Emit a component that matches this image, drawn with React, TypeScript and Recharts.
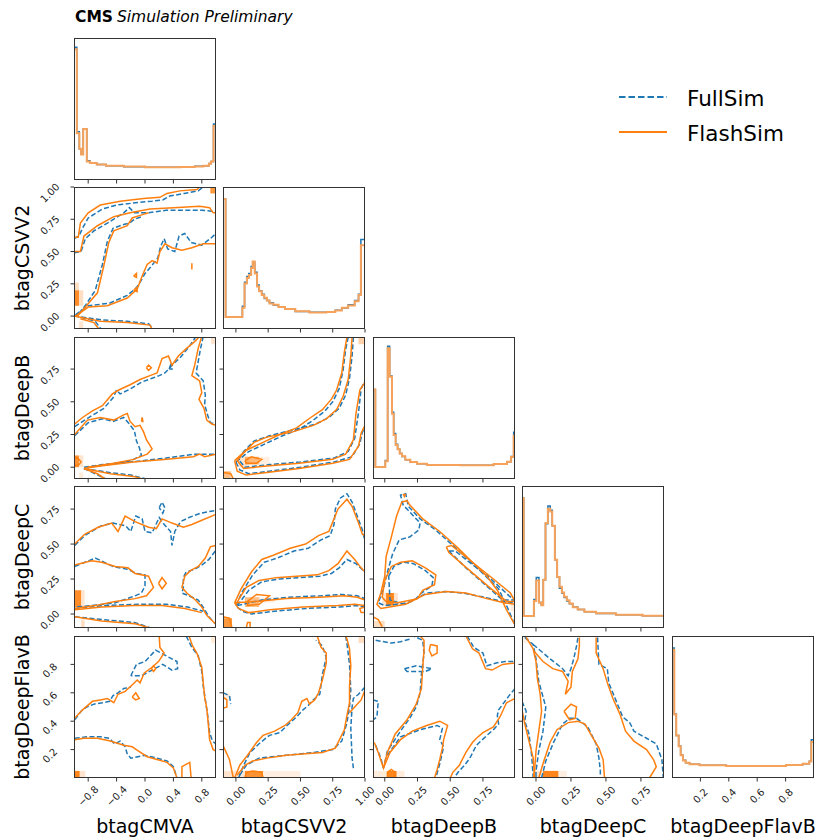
import React from 'react';
import { ScatterChart, Scatter, XAxis, YAxis, ReferenceArea } from 'recharts';

type Pt = [number, number];
type Cell = [number, number, number, number, number];

const ORANGE = '#ff7f0e';
const HIST_ORANGE = '#f6a25a';
const BLUE = '#1f77b4';
const FONT = '"DejaVu Sans", sans-serif';

// variables of the corner plot
const varNames = ['btagCMVA', 'btagCSVV2', 'btagDeepB', 'btagDeepC', 'btagDeepFlavB'];
const varDomains: [number, number][] = [[-1, 1], [-0.1, 1.0], [-0.09, 0.995], [-0.1, 0.915], [0, 1.0]];
const varTicks: number[][] = [
  [-0.8, -0.4, 0, 0.4, 0.8],
  [0, 0.25, 0.5, 0.75, 1.0],
  [0, 0.25, 0.5, 0.75],
  [0, 0.25, 0.5, 0.75],
  [0.2, 0.4, 0.6, 0.8],
];
const tickDigits = [1, 2, 2, 2, 1];

const colLeft = [74, 223, 373, 522, 672];
const rowTop = [38, 187, 337, 486, 636];
const SIZE = 142;
const AX = 40;

// diagonal histograms: [bin left edge, normalised height]
const histFlash0: Pt[] = [[-1.0, 0.92], [-0.96, 0.33], [-0.925, 0.22], [-0.9, 0.18], [-0.87, 0.36], [-0.82, 0.13], [-0.775, 0.12], [-0.68, 0.11], [-0.55, 0.1], [-0.3, 0.095], [0.0, 0.09], [0.5, 0.092], [0.7, 0.095], [0.82, 0.1], [0.9, 0.115], [0.93, 0.13], [0.965, 0.38], [1.0, 0.38]];
const histFull0: Pt[] = [[-1.0, 0.935], [-0.96, 0.34], [-0.925, 0.22], [-0.9, 0.185], [-0.87, 0.36], [-0.82, 0.135], [-0.775, 0.12], [-0.68, 0.11], [-0.55, 0.1], [-0.3, 0.094], [0.0, 0.09], [0.5, 0.093], [0.7, 0.096], [0.82, 0.1], [0.9, 0.116], [0.93, 0.13], [0.965, 0.395], [1.0, 0.395]];
const histFlash1: Pt[] = [[-0.1, 0.915], [-0.08, 0.085], [0.05, 0.15], [0.067, 0.32], [0.085, 0.36], [0.1, 0.38], [0.118, 0.43], [0.13, 0.475], [0.146, 0.39], [0.164, 0.3], [0.18, 0.265], [0.2, 0.24], [0.22, 0.22], [0.24, 0.2], [0.26, 0.18], [0.29, 0.17], [0.33, 0.155], [0.38, 0.14], [0.46, 0.125], [0.57, 0.117], [0.7, 0.12], [0.77, 0.13], [0.82, 0.15], [0.87, 0.165], [0.92, 0.195], [0.95, 0.24], [0.968, 0.59], [1.0, 0.59]];
const histFull1: Pt[] = [[-0.1, 0.915], [-0.08, 0.085], [0.05, 0.16], [0.067, 0.33], [0.085, 0.37], [0.1, 0.39], [0.118, 0.44], [0.13, 0.47], [0.146, 0.4], [0.164, 0.31], [0.18, 0.27], [0.2, 0.245], [0.22, 0.215], [0.24, 0.2], [0.26, 0.185], [0.29, 0.168], [0.33, 0.155], [0.38, 0.142], [0.46, 0.124], [0.57, 0.118], [0.7, 0.122], [0.77, 0.132], [0.82, 0.148], [0.87, 0.17], [0.92, 0.2], [0.95, 0.245], [0.968, 0.63], [1.0, 0.63]];
const histFlash2: Pt[] = [[-0.09, 0.63], [-0.072, 0.085], [0.004, 0.125], [0.022, 0.92], [0.037, 0.72], [0.055, 0.46], [0.068, 0.31], [0.083, 0.24], [0.098, 0.21], [0.114, 0.18], [0.132, 0.16], [0.157, 0.136], [0.195, 0.12], [0.246, 0.108], [0.323, 0.099], [0.577, 0.096], [0.832, 0.106], [0.934, 0.122], [0.964, 0.155], [0.985, 0.305], [0.995, 0.305]];
const histFull2: Pt[] = [[-0.09, 0.63], [-0.072, 0.086], [0.004, 0.13], [0.022, 0.935], [0.037, 0.725], [0.055, 0.47], [0.068, 0.32], [0.083, 0.245], [0.098, 0.21], [0.114, 0.18], [0.132, 0.158], [0.157, 0.136], [0.195, 0.12], [0.246, 0.107], [0.323, 0.1], [0.577, 0.097], [0.832, 0.105], [0.934, 0.122], [0.964, 0.158], [0.985, 0.33], [0.995, 0.33]];
const histFlash3: Pt[] = [[-0.1, 0.915], [-0.088, 0.084], [-0.015, 0.19], [0.002, 0.335], [0.021, 0.18], [0.038, 0.16], [0.052, 0.34], [0.068, 0.74], [0.085, 0.84], [0.102, 0.82], [0.116, 0.72], [0.135, 0.48], [0.151, 0.36], [0.168, 0.29], [0.185, 0.25], [0.201, 0.22], [0.22, 0.196], [0.239, 0.173], [0.263, 0.147], [0.298, 0.131], [0.346, 0.115], [0.429, 0.103], [0.571, 0.093], [0.761, 0.086], [0.915, 0.086]];
const histFull3: Pt[] = [[-0.1, 0.915], [-0.088, 0.084], [-0.015, 0.2], [0.002, 0.355], [0.021, 0.18], [0.038, 0.165], [0.052, 0.34], [0.068, 0.735], [0.085, 0.86], [0.102, 0.83], [0.116, 0.72], [0.135, 0.48], [0.151, 0.36], [0.168, 0.28], [0.185, 0.245], [0.201, 0.215], [0.22, 0.19], [0.239, 0.17], [0.263, 0.148], [0.298, 0.13], [0.346, 0.115], [0.429, 0.102], [0.571, 0.093], [0.761, 0.086], [0.915, 0.086]];
const histFlash4: Pt[] = [[0.0, 0.904], [0.016, 0.448], [0.03, 0.3], [0.047, 0.223], [0.061, 0.16], [0.077, 0.124], [0.096, 0.108], [0.124, 0.096], [0.194, 0.089], [0.382, 0.085], [0.803, 0.092], [0.92, 0.1], [0.967, 0.117], [0.981, 0.254], [0.995, 0.254]];
const histFull4: Pt[] = [[0.0, 0.915], [0.016, 0.45], [0.03, 0.3], [0.047, 0.225], [0.061, 0.162], [0.077, 0.125], [0.096, 0.108], [0.124, 0.096], [0.194, 0.089], [0.382, 0.085], [0.803, 0.092], [0.92, 0.1], [0.967, 0.118], [0.981, 0.27], [0.995, 0.27]];

// contour lines, one list of polylines per panel (row, col)
const flash10: Pt[][] = [
  [[-1, 0.61], [-0.94, 0.61], [-0.91, 0.72], [-0.8, 0.8], [-0.63, 0.86], [-0.35, 0.89], [-0.02, 0.91], [0.21, 0.92], [0.31, 0.95], [0.49, 0.97], [0.73, 0.98], [0.77, 1.0]],
  [[-1, 0.5], [-0.91, 0.5], [-0.86, 0.62], [-0.67, 0.7], [-0.44, 0.77], [-0.21, 0.8], [0.07, 0.83], [0.4, 0.84], [0.77, 0.85], [0.91, 0.84], [0.96, 0.8], [1.0, 0.8]],
  [[-0.95, 0.0], [-0.84, 0.07], [-0.67, 0.18], [-0.58, 0.39], [-0.51, 0.57], [-0.44, 0.66], [-0.25, 0.7], [-0.18, 0.76], [-0.07, 0.78], [0.05, 0.8]],
  [[-0.98, 0.0], [-0.8, 0.07], [-0.53, 0.08], [-0.25, 0.14], [-0.11, 0.21], [-0.04, 0.31], [0.03, 0.4], [0.1, 0.43], [0.17, 0.41], [0.21, 0.5], [0.28, 0.56], [0.38, 0.53], [0.52, 0.51], [0.66, 0.53], [0.82, 0.56], [1.0, 0.56]],
  [[-1, 0.0], [-0.63, -0.04], [-0.25, -0.05], [0.07, -0.07], [0.1, -0.1]],
  [[-0.91, -0.02], [-0.72, -0.05], [-0.65, -0.1]],
  [[-0.16, 0.31], [-0.12, 0.33], [-0.12, 0.3], [-0.16, 0.31]],
  [[-0.16, 0.2], [-0.12, 0.22], [-0.11, 0.19], [-0.16, 0.2]],
  [[0.66, 0.36], [0.66, 0.41]],
];
const full10: Pt[][] = [
  [[-1, 0.6], [-0.93, 0.62], [-0.88, 0.68], [-0.8, 0.76], [-0.6, 0.83], [-0.4, 0.86], [-0.1, 0.88], [0.1, 0.89], [0.25, 0.9], [0.35, 0.93], [0.55, 0.95], [0.75, 0.97], [0.82, 1.0]],
  [[-1, 0.49], [-0.9, 0.5], [-0.84, 0.6], [-0.72, 0.66], [-0.5, 0.73], [-0.3, 0.8], [-0.22, 0.84], [-0.15, 0.8], [0.05, 0.8], [0.3, 0.82], [0.55, 0.82], [0.8, 0.82], [1.0, 0.81]],
  [[-0.93, 0.02], [-0.83, 0.09], [-0.7, 0.2], [-0.6, 0.4], [-0.53, 0.58], [-0.45, 0.68], [-0.3, 0.71], [-0.22, 0.72], [-0.15, 0.75], [-0.05, 0.77]],
  [[-0.98, 0.01], [-0.8, 0.08], [-0.5, 0.1], [-0.25, 0.16], [-0.12, 0.22], [-0.05, 0.28], [0.0, 0.33], [0.08, 0.38], [0.18, 0.45], [0.22, 0.54], [0.27, 0.6], [0.32, 0.52], [0.42, 0.5], [0.48, 0.62], [0.56, 0.64], [0.65, 0.57], [0.8, 0.55], [0.92, 0.6], [1.0, 0.64]],
  [[-1, 0.0], [-0.6, -0.03], [-0.25, -0.04], [0.05, -0.06], [0.12, -0.1]],
  [[-0.9, -0.01], [-0.7, -0.04], [-0.62, -0.1]],
];
const cells10: Cell[] = [[-1, -0.93, 0.08, 0.2, 0.9], [-1, -0.93, 0.2, 0.26, 0.25], [-0.93, -0.87, 0.08, 0.2, 0.25], [-0.93, -0.87, -0.1, -0.04, 0.2], [0.92, 1.0, 0.95, 1.0, 0.8]];

const flash20: Pt[][] = [
  [[-0.99, 0.33], [-0.88, 0.38], [-0.74, 0.43], [-0.6, 0.47], [-0.46, 0.56], [-0.37, 0.59], [-0.21, 0.63], [-0.07, 0.67], [0.07, 0.7], [0.17, 0.72], [0.24, 0.83], [0.33, 0.85], [0.38, 0.78], [0.47, 0.85], [0.59, 0.91], [0.7, 0.96], [0.77, 1.0]],
  [[0.8, 1.0], [0.75, 0.91], [0.7, 0.78], [0.66, 0.7], [0.77, 0.66], [0.8, 0.57], [0.76, 0.52], [0.83, 0.45], [0.87, 0.36], [0.94, 0.33], [1.0, 0.32]],
  [[-0.99, 0.25], [-0.81, 0.36], [-0.63, 0.38], [-0.44, 0.36], [-0.3, 0.4], [-0.25, 0.41], [-0.21, 0.35], [-0.14, 0.31], [-0.07, 0.32], [-0.02, 0.27], [0.02, 0.21], [0.1, 0.14], [0.03, 0.1], [-0.16, 0.06], [-0.44, 0.03], [-0.81, 0.0]],
  [[-0.86, -0.01], [-0.63, 0.01], [-0.16, 0.04], [0.31, 0.06], [0.68, 0.08], [0.77, 0.1], [0.84, 0.08], [1.0, 0.1]],
  [[-0.86, -0.01], [-0.49, -0.05], [-0.16, -0.07], [0.03, -0.1]],
  [[-0.86, -0.01], [-0.67, -0.05], [-0.53, -0.1]],
  [[0.02, 0.76], [0.05, 0.78], [0.09, 0.76], [0.05, 0.74], [0.02, 0.76]],
  [[-0.05, 0.35], [-0.04, 0.38], [-0.03, 0.35], [-0.05, 0.35]],
  [[-1, 0.08], [-0.93, 0.06], [-0.9, 0.04], [-0.93, 0.02], [-1, 0.01]],
];
const full20: Pt[][] = [
  [[-0.99, 0.31], [-0.85, 0.36], [-0.7, 0.41], [-0.58, 0.45], [-0.45, 0.53], [-0.4, 0.59], [-0.35, 0.56], [-0.2, 0.6], [-0.05, 0.65], [0.1, 0.68], [0.2, 0.7], [0.28, 0.72], [0.35, 0.76], [0.42, 0.8], [0.5, 0.84], [0.62, 0.92], [0.72, 1.0]],
  [[0.82, 1.0], [0.78, 0.9], [0.74, 0.78], [0.72, 0.72], [0.82, 0.66], [0.85, 0.55], [0.84, 0.48], [0.88, 0.4], [0.92, 0.34], [1.0, 0.33]],
  [[-0.99, 0.24], [-0.8, 0.34], [-0.6, 0.37], [-0.45, 0.35], [-0.3, 0.38], [-0.22, 0.33], [-0.15, 0.28], [-0.12, 0.2], [-0.08, 0.15], [-0.05, 0.09], [-0.2, 0.05], [-0.5, 0.02], [-0.8, 0.0]],
  [[-0.86, 0.0], [-0.6, 0.02], [-0.2, 0.04], [0.3, 0.07], [0.7, 0.1], [0.8, 0.1], [1.0, 0.1]],
  [[-0.86, -0.01], [-0.5, -0.04], [-0.2, -0.06], [0.02, -0.09]],
  [[-0.86, -0.01], [-0.7, -0.05], [-0.55, -0.09]],
  [[0.34, 0.75], [0.36, 0.78], [0.38, 0.75], [0.34, 0.75]],
];
const cells20: Cell[] = [[-1, -0.93, 0.0, 0.09, 0.85], [-0.93, -0.87, 0.0, 0.09, 0.2], [-0.93, -0.87, -0.09, -0.04, 0.15], [0.93, 1.0, 0.94, 0.995, 0.2]];

const flash30: Pt[][] = [
  [[-0.99, 0.5], [-0.85, 0.57], [-0.66, 0.62], [-0.47, 0.65], [-0.38, 0.59], [-0.28, 0.7], [-0.14, 0.66], [0.05, 0.62], [0.16, 0.61], [0.24, 0.68], [0.38, 0.65], [0.54, 0.62], [0.66, 0.64], [0.8, 0.67], [0.99, 0.71]],
  [[-0.99, 0.35], [-0.75, 0.38], [-0.61, 0.37], [-0.42, 0.34], [-0.24, 0.33], [-0.14, 0.29], [0.05, 0.27], [0.12, 0.19], [0.02, 0.13], [-0.14, 0.11], [-0.42, 0.09], [-0.71, 0.06], [-0.99, 0.04]],
  [[0.99, 0.49], [0.92, 0.48], [0.85, 0.4], [0.75, 0.34], [0.64, 0.31], [0.56, 0.27], [0.52, 0.19], [0.59, 0.15], [0.71, 0.1], [0.8, 0.05], [0.87, -0.01], [0.99, -0.07]],
  [[-0.99, 0.03], [-0.61, 0.05], [-0.14, 0.06], [0.24, 0.06], [0.56, 0.04], [0.8, 0.01]],
  [[-0.99, -0.02], [-0.61, -0.05], [-0.14, -0.07], [0.07, -0.1]],
  [[0.19, 0.22], [0.24, 0.26], [0.3, 0.22], [0.24, 0.18], [0.19, 0.22]],
];
const full30: Pt[][] = [
  [[-0.99, 0.49], [-0.85, 0.56], [-0.62, 0.63], [-0.45, 0.65], [-0.27, 0.63], [-0.2, 0.59], [-0.13, 0.7], [-0.04, 0.68], [0.0, 0.59], [0.1, 0.58], [0.2, 0.69], [0.27, 0.64], [0.36, 0.59], [0.38, 0.49], [0.42, 0.59], [0.5, 0.66], [0.62, 0.69], [0.78, 0.72], [0.99, 0.74]],
  [[0.2, 0.76], [0.24, 0.8], [0.28, 0.76], [0.25, 0.72], [0.2, 0.76]],
  [[-0.99, 0.34], [-0.7, 0.4], [-0.45, 0.34], [-0.25, 0.32], [-0.12, 0.29], [0.0, 0.28], [0.0, 0.2], [-0.05, 0.15], [-0.14, 0.13], [-0.42, 0.08], [-0.75, 0.06], [-0.99, 0.05]],
  [[0.99, 0.45], [0.9, 0.39], [0.8, 0.35], [0.7, 0.32], [0.58, 0.3], [0.54, 0.26], [0.54, 0.19], [0.52, 0.15], [0.62, 0.13], [0.75, 0.1], [0.83, 0.04], [0.9, -0.02], [0.99, -0.07]],
  [[-0.99, 0.04], [-0.6, 0.06], [-0.1, 0.07], [0.3, 0.07], [0.6, 0.05], [0.82, 0.02]],
  [[-0.99, -0.02], [-0.6, -0.04], [-0.15, -0.06], [0.08, -0.1]],
];
const cells30: Cell[] = [[-1, -0.9, 0.05, 0.17, 0.9], [-0.9, -0.85, 0.05, 0.17, 0.2], [-0.9, -0.85, -0.1, -0.04, 0.25]];

const flash21: Pt[][] = [
  [[-0.01, 0.05], [0.08, 0.13], [0.21, 0.19], [0.34, 0.25], [0.47, 0.3], [0.58, 0.38], [0.67, 0.44], [0.74, 0.52], [0.78, 0.59], [0.82, 0.72], [0.84, 0.88], [0.86, 0.995]],
  [[-0.01, 0.05], [0.01, -0.03], [0.08, -0.06], [0.24, -0.04], [0.49, -0.01], [0.75, 0.03], [0.88, 0.06], [0.95, 0.16], [0.97, 0.26], [1.0, 0.32]],
  [[0.9, 0.995], [0.89, 0.85], [0.87, 0.67], [0.83, 0.54], [0.78, 0.44], [0.7, 0.37], [0.6, 0.32], [0.44, 0.27], [0.24, 0.23], [0.14, 0.19], [0.05, 0.1], [0.01, 0.05], [0.06, -0.01], [0.24, 0.01], [0.49, 0.03], [0.75, 0.06], [0.85, 0.1], [0.91, 0.21], [0.93, 0.41], [0.96, 0.59], [1.0, 0.65]],
  [[0.07, 0.05], [0.12, 0.08], [0.2, 0.06], [0.16, 0.03], [0.08, 0.03], [0.07, 0.05]],
  [[-0.1, -0.04], [-0.04, -0.05], [-0.02, -0.09]],
];
const full21: Pt[][] = [
  [[0.0, 0.04], [0.1, 0.12], [0.23, 0.18], [0.36, 0.24], [0.49, 0.29], [0.6, 0.36], [0.69, 0.43], [0.75, 0.5], [0.8, 0.6], [0.83, 0.74], [0.85, 0.9], [0.87, 0.995]],
  [[0.0, 0.04], [0.03, -0.02], [0.1, -0.05], [0.26, -0.03], [0.5, 0.0], [0.76, 0.04], [0.9, 0.08], [0.96, 0.18], [0.98, 0.27], [1.0, 0.3]],
  [[0.91, 0.995], [0.9, 0.85], [0.88, 0.68], [0.85, 0.55], [0.8, 0.45], [0.72, 0.38], [0.62, 0.33], [0.46, 0.29], [0.26, 0.24], [0.14, 0.2], [0.06, 0.12], [0.02, 0.06], [0.07, 0.0], [0.26, 0.02], [0.5, 0.04], [0.76, 0.07], [0.87, 0.12], [0.92, 0.22], [0.95, 0.42], [0.97, 0.6], [1.0, 0.66]],
];
const cells21: Cell[] = [[0.02, 0.1, 0.0, 0.08, 0.2], [0.07, 0.18, 0.02, 0.08, 0.55], [0.18, 0.26, 0.02, 0.08, 0.12], [0.95, 1.0, 0.94, 0.995, 0.35], [-0.1, -0.04, -0.09, -0.03, 0.5]];

const flash31: Pt[][] = [
  [[-0.01, 0.08], [0.04, 0.18], [0.12, 0.3], [0.2, 0.39], [0.29, 0.42], [0.42, 0.47], [0.54, 0.5], [0.64, 0.56], [0.72, 0.59], [0.76, 0.68], [0.79, 0.75], [0.83, 0.79], [0.86, 0.82], [0.9, 0.77], [0.95, 0.65], [0.98, 0.57], [1.0, 0.56]],
  [[0.0, 0.07], [0.08, 0.19], [0.18, 0.24], [0.31, 0.26], [0.47, 0.27], [0.63, 0.28], [0.72, 0.31], [0.79, 0.36], [0.86, 0.45], [0.92, 0.39], [0.97, 0.33], [1.0, 0.3]],
  [[-0.01, 0.08], [0.16, 0.09], [0.39, 0.11], [0.65, 0.12], [0.84, 0.13], [0.94, 0.12], [1.0, 0.1]],
  [[-0.01, 0.08], [0.02, 0.04], [0.1, 0.01], [0.26, 0.03], [0.52, 0.05], [0.79, 0.06], [0.92, 0.07], [1.0, 0.06]],
  [[0.09, 0.09], [0.16, 0.14], [0.26, 0.13], [0.18, 0.07], [0.09, 0.06], [0.09, 0.09]],
  [[-0.1, -0.02], [-0.05, -0.03], [-0.03, -0.1]],
  [[0.08, -0.1], [0.09, -0.06], [0.11, -0.06], [0.11, -0.1]],
  [[1.0, 0.05], [0.96, 0.04], [0.97, 0.01], [1.0, 0.01]],
];
const full31: Pt[][] = [
  [[0.0, 0.06], [0.05, 0.16], [0.13, 0.28], [0.22, 0.37], [0.32, 0.4], [0.45, 0.45], [0.56, 0.47], [0.66, 0.53], [0.73, 0.56], [0.76, 0.64], [0.77, 0.75], [0.81, 0.83], [0.86, 0.86], [0.9, 0.8], [0.94, 0.7], [0.98, 0.6], [1.0, 0.52]],
  [[0.01, 0.06], [0.1, 0.17], [0.2, 0.23], [0.33, 0.25], [0.5, 0.26], [0.65, 0.27], [0.74, 0.29], [0.8, 0.33], [0.86, 0.39], [0.93, 0.36], [1.0, 0.3]],
  [[0.01, 0.06], [0.2, 0.1], [0.4, 0.12], [0.66, 0.13], [0.82, 0.14], [0.94, 0.13], [1.0, 0.11]],
  [[0.01, 0.05], [0.05, 0.02], [0.12, 0.0], [0.3, 0.02], [0.55, 0.04], [0.8, 0.05], [0.93, 0.06], [1.0, 0.05]],
];
const cells31: Cell[] = [[0.07, 0.18, 0.05, 0.12, 0.5], [0.18, 0.3, 0.08, 0.12, 0.1], [-0.1, -0.03, -0.1, -0.03, 0.8]];

const flash32: Pt[][] = [
  [[0.99, -0.07], [0.93, 0.03], [0.86, 0.17], [0.78, 0.27], [0.67, 0.37], [0.55, 0.48], [0.42, 0.59], [0.29, 0.68], [0.19, 0.78], [0.17, 0.81], [0.13, 0.8], [0.09, 0.7], [0.05, 0.55], [0.01, 0.41], [0.0, 0.27], [-0.03, 0.15], [-0.06, 0.07], [-0.03, 0.04], [0.16, 0.07], [0.31, 0.14], [0.47, 0.16], [0.62, 0.15], [0.78, 0.11], [0.91, 0.08], [0.995, 0.07]],
  [[0.0, 0.24], [0.05, 0.34], [0.12, 0.37], [0.21, 0.38], [0.31, 0.33], [0.39, 0.28], [0.38, 0.21], [0.29, 0.17], [0.25, 0.11], [0.1, 0.08], [0.01, 0.09], [-0.02, 0.12], [0.0, 0.24]],
  [[0.47, 0.48], [0.51, 0.49], [0.67, 0.37], [0.83, 0.25], [0.96, 0.15], [0.995, 0.09], [0.93, 0.09], [0.8, 0.19], [0.65, 0.31], [0.49, 0.44], [0.47, 0.48]],
  [[-0.09, -0.02], [-0.05, -0.04], [-0.02, -0.09]],
  [[0.14, 0.86], [0.15, 0.84], [0.16, 0.86]],
];
const full32: Pt[][] = [
  [[0.99, -0.07], [0.94, 0.04], [0.87, 0.18], [0.75, 0.29], [0.65, 0.38], [0.52, 0.49], [0.39, 0.6], [0.27, 0.68], [0.18, 0.77], [0.16, 0.86], [0.12, 0.85], [0.14, 0.78], [0.2, 0.72], [0.27, 0.65], [0.26, 0.6], [0.19, 0.55], [0.11, 0.53], [0.06, 0.43], [0.02, 0.3], [-0.01, 0.18], [-0.05, 0.08], [0.0, 0.06], [0.18, 0.08], [0.32, 0.15], [0.46, 0.16], [0.6, 0.15], [0.76, 0.12], [0.9, 0.09], [0.995, 0.08]],
  [[0.03, 0.27], [0.07, 0.34], [0.14, 0.37], [0.22, 0.36], [0.31, 0.31], [0.37, 0.26], [0.36, 0.2], [0.28, 0.15], [0.23, 0.1], [0.14, 0.07], [0.04, 0.1], [0.03, 0.27]],
  [[0.49, 0.45], [0.54, 0.45], [0.66, 0.36], [0.8, 0.26], [0.95, 0.13], [0.99, 0.1], [0.9, 0.1], [0.62, 0.33], [0.49, 0.45]],
];
const cells32: Cell[] = [[0.01, 0.07, 0.06, 0.15, 0.95], [-0.02, 0.01, 0.06, 0.15, 0.2], [0.07, 0.1, 0.06, 0.15, 0.2], [-0.09, 0.0, -0.1, -0.05, 0.25], [0.96, 0.995, 0.02, 0.08, 0.15]];

const flash40: Pt[][] = [
  [[-0.99, 0.42], [-0.88, 0.48], [-0.74, 0.54], [-0.63, 0.55], [-0.53, 0.56], [-0.44, 0.53], [-0.38, 0.59], [-0.28, 0.61], [-0.17, 0.66], [-0.11, 0.69], [-0.07, 0.67], [-0.01, 0.74], [0.1, 0.78], [0.19, 0.82], [0.27, 0.88], [0.21, 0.92], [0.2, 1.0]],
  [[0.62, 1.0], [0.67, 0.93], [0.73, 0.88], [0.8, 0.78], [0.82, 0.67], [0.84, 0.57], [0.87, 0.49], [0.89, 0.39], [0.91, 0.27], [0.96, 0.2], [1.0, 0.19]],
  [[-0.99, 0.27], [-0.86, 0.28], [-0.67, 0.28], [-0.49, 0.26], [-0.3, 0.23], [-0.18, 0.22], [-0.09, 0.19], [0.03, 0.15], [0.17, 0.13], [0.31, 0.11], [0.4, 0.07], [0.45, 0.0]],
  [[0.52, 0.0], [0.52, 0.08], [0.63, 0.11], [0.65, 0.0]],
  [[-0.18, 0.57], [-0.13, 0.6], [-0.08, 0.56], [-0.13, 0.55], [-0.18, 0.57]],
  [[0.09, 0.77], [0.12, 0.79], [0.15, 0.77], [0.12, 0.75], [0.09, 0.77]],
];
const full40: Pt[][] = [
  [[-0.99, 0.41], [-0.9, 0.47], [-0.82, 0.5], [-0.72, 0.52], [-0.6, 0.53], [-0.5, 0.54], [-0.45, 0.58], [-0.38, 0.6], [-0.3, 0.63], [-0.2, 0.64]],
  [[-0.2, 0.72], [-0.12, 0.8], [0.0, 0.82], [0.15, 0.9], [0.3, 0.86], [0.45, 0.82], [0.46, 0.77], [0.38, 0.76], [0.25, 0.8], [0.1, 0.76], [-0.05, 0.72], [-0.2, 0.72]],
  [[0.58, 1.0], [0.66, 0.92], [0.75, 0.86], [0.8, 0.75], [0.82, 0.65], [0.85, 0.55], [0.88, 0.45], [0.91, 0.32], [0.95, 0.26], [1.0, 0.24]],
  [[-0.99, 0.28], [-0.82, 0.29], [-0.63, 0.29], [-0.5, 0.28], [-0.43, 0.24], [-0.35, 0.26], [-0.28, 0.22], [-0.25, 0.17], [-0.2, 0.14], [-0.1, 0.15], [0.0, 0.16], [0.17, 0.14], [0.31, 0.12], [0.4, 0.08], [0.45, 0.0]],
];
const cells40: Cell[] = [[-1, -0.92, 0.0, 0.05, 0.95], [-0.92, -0.84, 0.0, 0.05, 0.2], [0.93, 1.0, 0.95, 1.0, 0.15]];

const flash41: Pt[][] = [
  [[-0.01, 0.0], [0.03, 0.09], [0.09, 0.16], [0.16, 0.25], [0.21, 0.3], [0.3, 0.33], [0.38, 0.37], [0.43, 0.41], [0.48, 0.46], [0.51, 0.54], [0.55, 0.56], [0.57, 0.52], [0.61, 0.55], [0.64, 0.6], [0.67, 0.69], [0.7, 0.81], [0.7, 0.88], [0.66, 0.92], [0.63, 1.0]],
  [[0.01, 0.02], [0.07, 0.09], [0.13, 0.12], [0.24, 0.14], [0.39, 0.16], [0.54, 0.17], [0.67, 0.18], [0.77, 0.21], [0.84, 0.34], [0.86, 0.44], [0.88, 0.53], [0.88, 0.65], [0.89, 0.79], [0.88, 0.91], [0.86, 0.98], [0.85, 1.0]],
  [[1.0, 0.62], [0.97, 0.55], [0.92, 0.5], [0.88, 0.46]],
  [[-0.1, 0.57], [-0.07, 0.55], [-0.07, 0.5], [-0.1, 0.49]],
  [[-0.1, 0.23], [-0.05, 0.13], [-0.02, 0.0]],
  [[0.07, 0.0], [0.08, 0.04], [0.13, 0.05], [0.2, 0.04], [0.21, 0.0]],
];
const full41: Pt[][] = [
  [[0.02, 0.0], [0.06, 0.09], [0.11, 0.18], [0.19, 0.25], [0.26, 0.3], [0.34, 0.32], [0.42, 0.39], [0.47, 0.43], [0.52, 0.48], [0.56, 0.51], [0.6, 0.55], [0.65, 0.59], [0.67, 0.73], [0.7, 0.85], [0.67, 0.93], [0.62, 0.97]],
  [[0.03, 0.02], [0.08, 0.09], [0.18, 0.14], [0.39, 0.16], [0.6, 0.18], [0.75, 0.2], [0.82, 0.26], [0.86, 0.39], [0.88, 0.5], [0.89, 0.62], [0.88, 0.8], [0.86, 0.95], [0.85, 1.0]],
  [[1.0, 0.64], [0.95, 0.59], [0.91, 0.56], [0.9, 0.5], [0.89, 0.35], [0.9, 0.14], [0.91, 0.07]],
  [[-0.1, 0.6], [-0.05, 0.58], [-0.04, 0.52]],
];
const cells41: Cell[] = [[-0.1, 0.07, 0.0, 0.05, 0.2], [0.07, 0.21, 0.0, 0.05, 0.85], [0.21, 0.5, 0.0, 0.05, 0.12], [0.95, 1.0, 0.95, 1.0, 0.25], [-0.1, -0.05, 0.55, 0.6, 0.15]];

const flash42: Pt[][] = [
  [[-0.08, 0.25], [-0.05, 0.18], [-0.01, 0.07], [0.02, 0.18], [0.08, 0.31], [0.17, 0.41], [0.24, 0.52], [0.28, 0.63], [0.29, 0.78], [0.3, 0.9], [0.3, 0.97], [0.27, 1.0]],
  [[-0.01, 0.07], [0.04, 0.18], [0.12, 0.27], [0.21, 0.33], [0.32, 0.37], [0.42, 0.4], [0.48, 0.37], [0.45, 0.27], [0.44, 0.21], [0.42, 0.13], [0.4, 0.06], [0.38, 0.0]],
  [[0.62, 1.0], [0.67, 0.91], [0.72, 0.88], [0.77, 0.77], [0.82, 0.76], [0.9, 0.8], [0.995, 0.81]],
  [[0.995, 0.56], [0.93, 0.53], [0.88, 0.43], [0.83, 0.36], [0.75, 0.32], [0.7, 0.28], [0.67, 0.25], [0.62, 0.18], [0.57, 0.09], [0.52, 0.04], [0.5, 0.0]],
  [[0.35, 0.94], [0.4, 0.93], [0.4, 0.88], [0.36, 0.86], [0.34, 0.9], [0.35, 0.94]],
  [[0.02, 0.0], [0.02, 0.04], [0.05, 0.06], [0.08, 0.04], [0.08, 0.0]],
];
const full42: Pt[][] = [
  [[-0.07, 0.23], [-0.03, 0.14], [-0.01, 0.07], [0.02, 0.19], [0.12, 0.33], [0.19, 0.42], [0.24, 0.5], [0.27, 0.6], [0.28, 0.73], [0.3, 0.88], [0.29, 0.97], [0.22, 1.0]],
  [[0.15, 0.77], [0.24, 0.79], [0.36, 0.77], [0.31, 0.75], [0.17, 0.75], [0.15, 0.77]],
  [[-0.07, 0.97], [0.05, 0.95], [0.12, 0.96], [0.2, 0.98]],
  [[0.02, 0.16], [0.12, 0.29], [0.27, 0.34], [0.4, 0.37], [0.44, 0.35], [0.42, 0.27], [0.45, 0.22], [0.42, 0.1], [0.39, 0.0]],
  [[0.63, 1.0], [0.68, 0.92], [0.75, 0.88], [0.78, 0.79], [0.85, 0.81], [0.92, 0.82], [0.995, 0.82]],
  [[0.995, 0.63], [0.95, 0.58], [0.87, 0.48], [0.86, 0.44], [0.87, 0.38], [0.83, 0.34], [0.78, 0.3], [0.7, 0.23], [0.65, 0.14], [0.61, 0.09], [0.56, 0.04], [0.53, 0.0]],
  [[-0.09, 0.55], [-0.05, 0.54], [-0.06, 0.43], [-0.09, 0.41]],
];
const cells42: Cell[] = [[0.02, 0.09, 0.0, 0.05, 0.95], [0.09, 0.15, 0.0, 0.05, 0.15], [-0.09, 0.02, 0.0, 0.05, 0.15]];

const flash43: Pt[][] = [
  [[-0.07, 0.99], [-0.02, 0.91], [0.0, 0.82], [0.01, 0.7], [0.03, 0.59], [0.04, 0.47], [0.02, 0.33], [0.0, 0.19], [-0.01, 0.05], [-0.02, 0.0]],
  [[-0.02, 0.9], [0.05, 0.82], [0.12, 0.77], [0.19, 0.75], [0.23, 0.68], [0.21, 0.59], [0.25, 0.64], [0.26, 0.75], [0.3, 0.84], [0.31, 0.93], [0.31, 0.99]],
  [[-0.1, 0.48], [-0.08, 0.38], [-0.05, 0.26], [-0.02, 0.14], [-0.01, 0.0]],
  [[0.02, 0.0], [0.05, 0.1], [0.1, 0.25], [0.15, 0.34], [0.23, 0.39], [0.3, 0.4], [0.35, 0.38], [0.39, 0.31], [0.45, 0.21], [0.48, 0.13], [0.49, 0.0]],
  [[0.2, 0.47], [0.25, 0.52], [0.29, 0.5], [0.28, 0.42], [0.24, 0.41], [0.2, 0.47]],
  [[0.43, 0.99], [0.43, 0.88], [0.48, 0.77], [0.51, 0.67], [0.55, 0.56], [0.6, 0.45], [0.64, 0.33], [0.7, 0.26], [0.79, 0.2], [0.84, 0.13], [0.86, 0.08], [0.83, 0.03], [0.81, 0.0]],
];
const full43: Pt[][] = [
  [[-0.08, 0.99], [-0.02, 0.94], [0.0, 0.84], [0.02, 0.68], [0.07, 0.5], [0.05, 0.33], [0.02, 0.19], [0.0, 0.05], [0.0, 0.0]],
  [[-0.02, 0.94], [0.1, 0.84], [0.19, 0.77], [0.23, 0.72], [0.25, 0.77], [0.27, 0.84], [0.29, 0.93], [0.3, 0.99]],
  [[-0.1, 0.54], [-0.07, 0.47], [-0.08, 0.4], [-0.05, 0.31], [-0.03, 0.15], [-0.02, 0.0]],
  [[0.04, 0.0], [0.07, 0.12], [0.13, 0.26], [0.19, 0.38], [0.24, 0.42], [0.29, 0.42], [0.33, 0.39], [0.37, 0.36], [0.43, 0.24], [0.45, 0.14], [0.46, 0.05], [0.46, 0.0]],
  [[0.44, 0.99], [0.45, 0.8], [0.51, 0.77], [0.52, 0.67], [0.57, 0.55], [0.62, 0.43], [0.67, 0.39], [0.7, 0.33], [0.79, 0.28], [0.86, 0.24], [0.9, 0.13], [0.91, 0.0]],
];
const cells43: Cell[] = [[0.05, 0.16, 0.0, 0.05, 0.95], [-0.02, 0.05, 0.0, 0.05, 0.2], [0.16, 0.22, 0.0, 0.05, 0.12], [-0.1, -0.05, 0.95, 1.0, 0.1]];

const toPts = (line: Pt[]) => line.map(([x, y]) => ({ x, y }));
const fmt = (v: number, d: number) => v.toFixed(d).replace('-', '\u2212');

const noShape = () => <g />;
const noTick = () => <g />;

const xTickFor = (col: number) => (props: any) => {
  const { x, payload } = props;
  const cy = SIZE + 18;
  return (
    <text x={x} y={cy} textAnchor="middle" dominantBaseline="central" fontSize={10} fontFamily={FONT} fill="#222" transform={`rotate(-45 ${x} ${cy})`}>
      {fmt(payload.value, tickDigits[col])}
    </text>
  );
};

const yTickFor = (row: number) => (props: any) => {
  const { y, payload } = props;
  const cx = AX - 24;
  const cy = y + 6;
  return (
    <text x={cx} y={cy} textAnchor="middle" dominantBaseline="central" fontSize={10} fontFamily={FONT} fill="#222" transform={`rotate(-45 ${cx} ${cy})`}>
      {fmt(payload.value, tickDigits[row])}
    </text>
  );
};

interface PanelProps {
  row: number;
  col: number;
  flash: Pt[][];
  full: Pt[][];
  cells: Cell[];
}

function Panel({ row, col, flash, full, cells }: PanelProps) {
  const diag = row === col;
  return (
    <div style={{ position: 'absolute', left: colLeft[col] - AX, top: rowTop[row] }}>
      <ScatterChart width={SIZE + AX} height={SIZE + AX} margin={{ top: 0, right: 0, bottom: 0, left: 0 }}>
        <XAxis
          type="number"
          dataKey="x"
          domain={varDomains[col]}
          ticks={varTicks[col]}
          allowDataOverflow
          interval={0}
          height={AX}
          axisLine={false}
          tickSize={3.5}
          tickLine={{ stroke: '#333' }}
          tick={row === 4 ? xTickFor(col) : noTick}
        />
        <YAxis
          type="number"
          dataKey="y"
          domain={diag ? [0, 1] : varDomains[row]}
          ticks={diag ? [0, 1] : varTicks[row]}
          allowDataOverflow
          interval={0}
          width={AX}
          axisLine={false}
          tickSize={3.5}
          tickLine={diag ? false : { stroke: '#333' }}
          tick={!diag && col === 0 ? yTickFor(row) : noTick}
        />
        {cells.map(([x1, x2, y1, y2, w], i) => (
          <ReferenceArea key={'c' + i} x1={x1} x2={x2} y1={y1} y2={y2} fill={ORANGE} fillOpacity={w} stroke="none" ifOverflow="hidden" />
        ))}
        {full.map((line, i) => (
          <Scatter
            key={'b' + i}
            data={toPts(line)}
            fill="none"
            shape={noShape}
            line={{ stroke: BLUE, strokeWidth: 1.5, strokeDasharray: diag ? undefined : '5 2.4' }}
            lineJointType={diag ? 'stepAfter' : 'linear'}
            isAnimationActive={false}
          />
        ))}
        {flash.map((line, i) => (
          <Scatter
            key={'o' + i}
            data={toPts(line)}
            fill="none"
            shape={noShape}
            line={{ stroke: diag ? HIST_ORANGE : ORANGE, strokeWidth: diag ? 2 : 1.5 }}
            lineJointType={diag ? 'stepAfter' : 'linear'}
            isAnimationActive={false}
          />
        ))}
      </ScatterChart>
      <div
        style={{
          position: 'absolute',
          left: AX,
          top: 0,
          width: SIZE,
          height: SIZE,
          border: '1px solid #333',
          boxSizing: 'border-box',
          pointerEvents: 'none',
        }}
      />
    </div>
  );
}

const panels: PanelProps[] = [
  { row: 0, col: 0, flash: [histFlash0], full: [histFull0], cells: [] },
  { row: 1, col: 1, flash: [histFlash1], full: [histFull1], cells: [] },
  { row: 2, col: 2, flash: [histFlash2], full: [histFull2], cells: [] },
  { row: 3, col: 3, flash: [histFlash3], full: [histFull3], cells: [] },
  { row: 4, col: 4, flash: [histFlash4], full: [histFull4], cells: [] },
  { row: 1, col: 0, flash: flash10, full: full10, cells: cells10 },
  { row: 2, col: 0, flash: flash20, full: full20, cells: cells20 },
  { row: 3, col: 0, flash: flash30, full: full30, cells: cells30 },
  { row: 2, col: 1, flash: flash21, full: full21, cells: cells21 },
  { row: 3, col: 1, flash: flash31, full: full31, cells: cells31 },
  { row: 3, col: 2, flash: flash32, full: full32, cells: cells32 },
  { row: 4, col: 0, flash: flash40, full: full40, cells: cells40 },
  { row: 4, col: 1, flash: flash41, full: full41, cells: cells41 },
  { row: 4, col: 2, flash: flash42, full: full42, cells: cells42 },
  { row: 4, col: 3, flash: flash43, full: full43, cells: cells43 },
];

export default function App() {
  return (
    <div style={{ position: 'absolute', left: 0, top: 0, width: 819, height: 840, background: '#fff', overflow: 'hidden' }}>
      <style>{'.recharts-surface { overflow: visible; } .recharts-wrapper { overflow: visible; }'}</style>
      <svg width={819} height={840} style={{ position: 'absolute', left: 0, top: 0 }}>
        <text x={75} y={22} fontSize={15.5} fontFamily={FONT} fill="#000">
          <tspan fontWeight="bold">CMS</tspan>
          <tspan fontStyle="italic" dx={4}>Simulation Preliminary</tspan>
        </text>
        <line x1={619} x2={667} y1={97} y2={97} stroke={BLUE} strokeWidth={1.8} strokeDasharray="6.5 3" />
        <line x1={619} x2={667} y1={132} y2={132} stroke={ORANGE} strokeWidth={1.8} />
        <text x={687} y={106} fontSize={21.5} fontFamily={FONT} fill="#000">FullSim</text>
        <text x={687} y={141} fontSize={21.5} fontFamily={FONT} fill="#000">FlashSim</text>
        {varNames.map((n, i) => (
          <text key={'xl' + i} x={colLeft[i] + SIZE / 2} y={833} textAnchor="middle" fontSize={19} fontFamily={FONT} fill="#000">
            {n}
          </text>
        ))}
        {varNames.slice(1).map((n, i) => {
          const cy = rowTop[i + 1] + SIZE / 2;
          return (
            <text key={'yl' + i} x={29} y={cy} transform={`rotate(-90 29 ${cy})`} textAnchor="middle" fontSize={19} fontFamily={FONT} fill="#000">
              {n}
            </text>
          );
        })}
      </svg>
      {panels.map((p) => (
        <Panel key={`${p.row}-${p.col}`} {...p} />
      ))}
    </div>
  );
}
